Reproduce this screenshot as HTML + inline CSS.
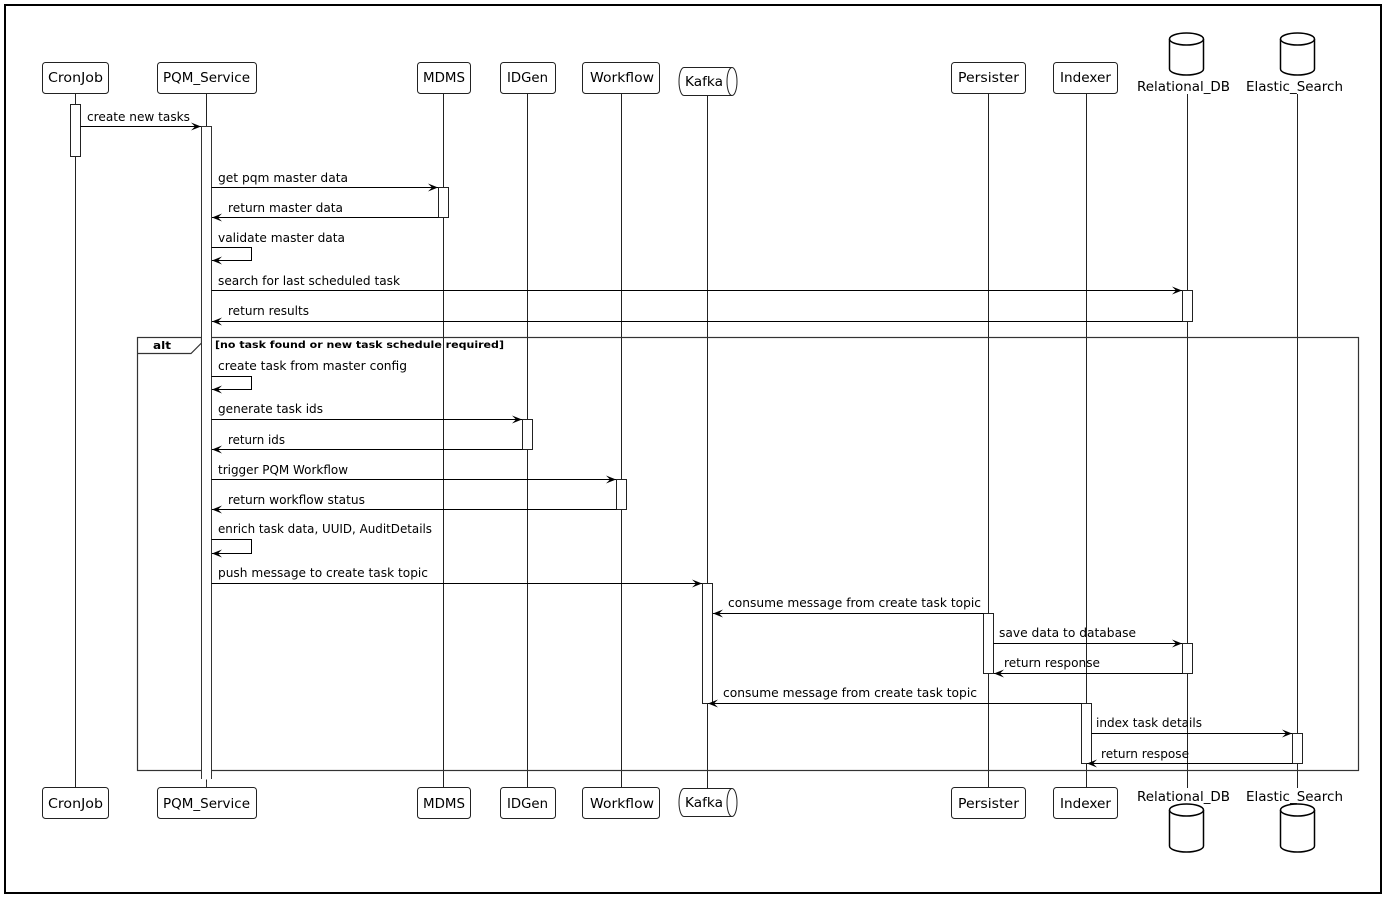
<!DOCTYPE html>
<html><head><meta charset="utf-8"><style>
html,body{margin:0;padding:0;background:#fff;}
svg{display:block;}
text{font-family:"DejaVu Sans","Liberation Sans",sans-serif;fill:#000;}
.m{font-size:12px;}
.p{font-size:13px;}
</style></head><body>
<svg width="1384" height="900" viewBox="0 0 1384 900" xmlns="http://www.w3.org/2000/svg">
<defs>
<marker id="ah" viewBox="0 0 10 8" refX="10" refY="4" markerWidth="10" markerHeight="8" markerUnits="userSpaceOnUse" orient="auto">
<path d="M0,0 L10,4 L0,8 L4,4 Z" fill="#000"/>
</marker>
</defs>
<rect x="5" y="5" width="1376" height="888" fill="#fff" stroke="#000" stroke-width="2"/>

<!-- lifelines -->
<g stroke="#222" stroke-width="1" fill="none">
<line x1="75.5" y1="93" x2="75.5" y2="787"/>
<line x1="206.5" y1="93" x2="206.5" y2="787"/>
<line x1="443.5" y1="93" x2="443.5" y2="787"/>
<line x1="527.5" y1="93" x2="527.5" y2="787"/>
<line x1="621.5" y1="93" x2="621.5" y2="787"/>
<line x1="707.5" y1="95" x2="707.5" y2="788"/>
<line x1="988.5" y1="93" x2="988.5" y2="787"/>
<line x1="1086.5" y1="93" x2="1086.5" y2="787"/>
<line x1="1187.5" y1="94" x2="1187.5" y2="788"/>
<line x1="1297.5" y1="94" x2="1297.5" y2="788"/>
</g>

<!-- top participants -->
<g fill="#fff" stroke="#222" stroke-width="1">
<rect x="42.5" y="62.5" width="66" height="31" rx="3"/>
<rect x="157.5" y="62.5" width="99" height="31" rx="3"/>
<rect x="417.5" y="62.5" width="53" height="31" rx="3"/>
<rect x="500.5" y="62.5" width="55" height="31" rx="3"/>
<rect x="582.5" y="62.5" width="77" height="31" rx="3"/>
<rect x="951.5" y="62.5" width="74" height="31" rx="3"/>
<rect x="1053.5" y="62.5" width="64" height="31" rx="3"/>
<!-- bottom -->
<rect x="42.5" y="787.5" width="66" height="31" rx="3"/>
<rect x="157.5" y="787.5" width="99" height="31" rx="3"/>
<rect x="417.5" y="787.5" width="53" height="31" rx="3"/>
<rect x="500.5" y="787.5" width="55" height="31" rx="3"/>
<rect x="582.5" y="787.5" width="77" height="31" rx="3"/>
<rect x="951.5" y="787.5" width="74" height="31" rx="3"/>
<rect x="1053.5" y="787.5" width="64" height="31" rx="3"/>
</g>
<!-- kafka queues -->
<g fill="#fff" stroke="#222" stroke-width="1">
<path d="M684,67.5 H732 A5,14 0 0 1 732,95.5 H684 A5,14 0 0 1 684,67.5 Z"/>
<path d="M732,67.5 A5,14 0 0 0 732,95.5"/>
<path d="M684,788.5 H732 A5,14 0 0 1 732,816.5 H684 A5,14 0 0 1 684,788.5 Z"/>
<path d="M732,788.5 A5,14 0 0 0 732,816.5"/>
</g>
<!-- databases -->
<g fill="#fff" stroke="#000" stroke-width="1.5">
<path d="M1169.5,39 A17,6 0 0 1 1203.5,39 V69 A17,6 0 0 1 1169.5,69 Z"/>
<path d="M1169.5,39 A17,6 0 0 0 1203.5,39" fill="none"/>
<path d="M1280.5,39 A17,6 0 0 1 1314.5,39 V69 A17,6 0 0 1 1280.5,69 Z"/>
<path d="M1280.5,39 A17,6 0 0 0 1314.5,39" fill="none"/>
<path d="M1169.5,810 A17,6 0 0 1 1203.5,810 V846 A17,6 0 0 1 1169.5,846 Z"/>
<path d="M1169.5,810 A17,6 0 0 0 1203.5,810" fill="none"/>
<path d="M1280.5,810 A17,6 0 0 1 1314.5,810 V846 A17,6 0 0 1 1280.5,846 Z"/>
<path d="M1280.5,810 A17,6 0 0 0 1314.5,810" fill="none"/>
</g>

<!-- participant names -->
<g class="p">
<text class="p" x="48" y="82" textLength="55" lengthAdjust="spacingAndGlyphs">CronJob</text>
<text class="p" x="163" y="82" textLength="87" lengthAdjust="spacingAndGlyphs">PQM_Service</text>
<text class="p" x="423" y="82" textLength="42" lengthAdjust="spacingAndGlyphs">MDMS</text>
<text class="p" x="507" y="82" textLength="41" lengthAdjust="spacingAndGlyphs">IDGen</text>
<text class="p" x="590" y="82" textLength="64" lengthAdjust="spacingAndGlyphs">Workflow</text>
<text class="p" x="685" y="86" textLength="38" lengthAdjust="spacingAndGlyphs">Kafka</text>
<text class="p" x="958" y="82" textLength="61" lengthAdjust="spacingAndGlyphs">Persister</text>
<text class="p" x="1060" y="82" textLength="51" lengthAdjust="spacingAndGlyphs">Indexer</text>
<text class="p" x="1137" y="91" textLength="93" lengthAdjust="spacingAndGlyphs">Relational_DB</text>
<text class="p" x="1246" y="91" textLength="97" lengthAdjust="spacingAndGlyphs">Elastic_Search</text>

<text class="p" x="48" y="808" textLength="55" lengthAdjust="spacingAndGlyphs">CronJob</text>
<text class="p" x="163" y="808" textLength="87" lengthAdjust="spacingAndGlyphs">PQM_Service</text>
<text class="p" x="423" y="808" textLength="42" lengthAdjust="spacingAndGlyphs">MDMS</text>
<text class="p" x="507" y="808" textLength="41" lengthAdjust="spacingAndGlyphs">IDGen</text>
<text class="p" x="590" y="808" textLength="64" lengthAdjust="spacingAndGlyphs">Workflow</text>
<text class="p" x="685" y="807" textLength="38" lengthAdjust="spacingAndGlyphs">Kafka</text>
<text class="p" x="958" y="808" textLength="61" lengthAdjust="spacingAndGlyphs">Persister</text>
<text class="p" x="1060" y="808" textLength="51" lengthAdjust="spacingAndGlyphs">Indexer</text>
<text class="p" x="1137" y="801" textLength="93" lengthAdjust="spacingAndGlyphs">Relational_DB</text>
<text class="p" x="1246" y="801" textLength="97" lengthAdjust="spacingAndGlyphs">Elastic_Search</text>
</g>

<!-- alt frame -->
<g stroke="#333" stroke-width="1.2" fill="none">
<rect x="137.5" y="337.5" width="1221" height="433"/>
<path d="M137.5,353.5 H191 L201.5,343 V337.5" />
</g>
<text x="153" y="349" style="font-size:11px;font-weight:bold" textLength="18" lengthAdjust="spacingAndGlyphs">alt</text>
<text x="215" y="348" style="font-size:10px;font-weight:bold" textLength="289" lengthAdjust="spacingAndGlyphs">[no task found or new task schedule required]</text>

<!-- activations -->
<g fill="#fff" stroke="#222" stroke-width="1">
<rect x="70.5" y="104.5" width="10" height="52"/>
<rect x="438.5" y="187.5" width="10" height="30"/>
<rect x="1182.5" y="290.5" width="10" height="31"/>
<rect x="522.5" y="419.5" width="10" height="30"/>
<rect x="616.5" y="479.5" width="10" height="30"/>
<rect x="702.5" y="583.5" width="10" height="120"/>
<rect x="983.5" y="613.5" width="10" height="60"/>
<rect x="1182.5" y="643.5" width="10" height="30"/>
<rect x="1081.5" y="703.5" width="10" height="60"/>
<rect x="1292.5" y="733.5" width="10" height="30"/>
</g>
<!-- PQM activation (open bottom) -->
<rect x="201.5" y="126.5" width="10" height="653" fill="#fff" stroke="none"/>
<g stroke="#333" stroke-width="1" fill="none">
<path d="M201.5,779 V126.5 H211.5 V779"/>
<line x1="206.5" y1="782" x2="206.5" y2="787"/>
</g>

<!-- messages -->
<g stroke="#000" stroke-width="1" fill="none" marker-end="url(#ah)">
<line x1="80.5" y1="126.5" x2="201" y2="126.5"/>
<line x1="211.5" y1="187.5" x2="438" y2="187.5"/>
<line x1="438.5" y1="217.5" x2="212" y2="217.5"/>
<path d="M211.5,247.5 H251.5 V260.5 H212"/>
<line x1="211.5" y1="290.5" x2="1182" y2="290.5"/>
<line x1="1182.5" y1="321.5" x2="212" y2="321.5"/>
<path d="M211.5,376.5 H251.5 V389.5 H212"/>
<line x1="211.5" y1="419.5" x2="522" y2="419.5"/>
<line x1="522.5" y1="449.5" x2="212" y2="449.5"/>
<line x1="211.5" y1="479.5" x2="616" y2="479.5"/>
<line x1="616.5" y1="509.5" x2="212" y2="509.5"/>
<path d="M211.5,539.5 H251.5 V553.5 H212"/>
<line x1="211.5" y1="583.5" x2="702" y2="583.5"/>
<line x1="983.5" y1="613.5" x2="713" y2="613.5"/>
<line x1="993.5" y1="643.5" x2="1182" y2="643.5"/>
<line x1="1182.5" y1="673.5" x2="994" y2="673.5"/>
<line x1="1081.5" y1="703.5" x2="708" y2="703.5"/>
<line x1="1091.5" y1="733.5" x2="1292" y2="733.5"/>
<line x1="1292.5" y1="763.5" x2="1087" y2="763.5"/>
</g>

<!-- message labels -->
<g>
<text class="m" x="87" y="121" textLength="103" lengthAdjust="spacingAndGlyphs">create new tasks</text>
<text class="m" x="218" y="182" textLength="130" lengthAdjust="spacingAndGlyphs">get pqm master data</text>
<text class="m" x="228" y="212" textLength="115" lengthAdjust="spacingAndGlyphs">return master data</text>
<text class="m" x="218" y="242" textLength="127" lengthAdjust="spacingAndGlyphs">validate master data</text>
<text class="m" x="218" y="285" textLength="182" lengthAdjust="spacingAndGlyphs">search for last scheduled task</text>
<text class="m" x="228" y="315" textLength="81" lengthAdjust="spacingAndGlyphs">return results</text>
<text class="m" x="218" y="370" textLength="189" lengthAdjust="spacingAndGlyphs">create task from master config</text>
<text class="m" x="218" y="413" textLength="105" lengthAdjust="spacingAndGlyphs">generate task ids</text>
<text class="m" x="228" y="444" textLength="57" lengthAdjust="spacingAndGlyphs">return ids</text>
<text class="m" x="218" y="474" textLength="130" lengthAdjust="spacingAndGlyphs">trigger PQM Workflow</text>
<text class="m" x="228" y="504" textLength="137" lengthAdjust="spacingAndGlyphs">return workflow status</text>
<text class="m" x="218" y="533" textLength="214" lengthAdjust="spacingAndGlyphs">enrich task data, UUID, AuditDetails</text>
<text class="m" x="218" y="577" textLength="210" lengthAdjust="spacingAndGlyphs">push message to create task topic</text>
<text class="m" x="728" y="607" textLength="253" lengthAdjust="spacingAndGlyphs">consume message from create task topic</text>
<text class="m" x="999" y="637" textLength="137" lengthAdjust="spacingAndGlyphs">save data to database</text>
<text class="m" x="1004" y="667" textLength="96" lengthAdjust="spacingAndGlyphs">return response</text>
<text class="m" x="723" y="697" textLength="254" lengthAdjust="spacingAndGlyphs">consume message from create task topic</text>
<text class="m" x="1096" y="727" textLength="106" lengthAdjust="spacingAndGlyphs">index task details</text>
<text class="m" x="1101" y="758" textLength="88" lengthAdjust="spacingAndGlyphs">return respose</text>
</g>
</svg>
</body></html>
